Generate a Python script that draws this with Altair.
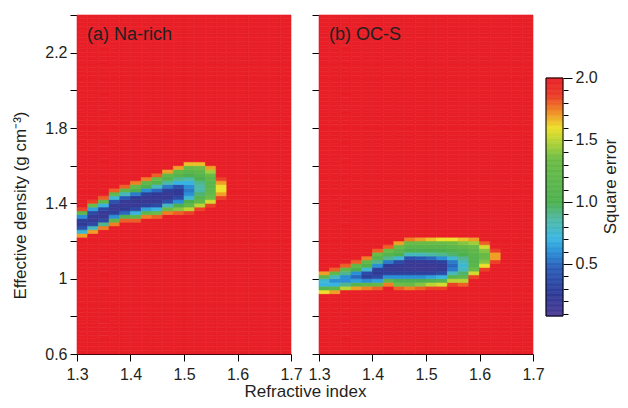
import altair as alt
import pandas as pd
import numpy as np

# ---------------- data ----------------
X_START, X_STEP, N_COLS = 1.30, 0.02, 20      # refractive index grid
Y_START, Y_STEP, N_ROWS = 0.60, 0.02, 90      # effective density grid
SATURATED = 2.0                               # cells outside the blob (red)

# Panel (a) Na-rich: for each column, density of the top non-red row and its values top->bottom
A_TOP = [1.36, 1.40, 1.42, 1.46, 1.48, 1.50, 1.52, 1.54, 1.56, 1.58, 1.60, 1.60, 1.58, 1.52]
A_VALS = [
    [1.85, 1.2, 0.6, 0.3, 0.25, 0.4, 0.75, 1.7],
    [1.85, 1.3, 0.65, 0.35, 0.2, 0.2, 0.35, 0.8, 1.7],
    [1.8, 1.25, 0.7, 0.35, 0.2, 0.2, 0.35, 0.9, 1.75],
    [1.8, 1.2, 0.75, 0.4, 0.2, 0.2, 0.3, 0.6, 1.2, 1.75],
    [1.8, 1.2, 0.8, 0.45, 0.2, 0.2, 0.25, 0.5, 1.1, 1.8],
    [1.75, 1.25, 1.0, 0.55, 0.25, 0.2, 0.2, 0.35, 0.7, 1.2, 1.8],
    [1.75, 1.2, 1.0, 0.6, 0.3, 0.2, 0.2, 0.3, 0.65, 1.2, 1.75],
    [1.8, 1.3, 1.1, 0.8, 0.5, 0.25, 0.2, 0.2, 0.35, 0.7, 1.3, 1.8],
    [1.7, 1.25, 1.1, 0.85, 0.55, 0.3, 0.2, 0.22, 0.4, 0.8, 1.3, 1.75],
    [1.7, 1.25, 1.1, 0.9, 0.7, 0.4, 0.25, 0.25, 0.35, 0.6, 1.0, 1.4, 1.8],
    [1.65, 1.3, 1.15, 1.0, 0.85, 0.7, 0.6, 0.55, 0.6, 0.75, 1.0, 1.25, 1.5, 1.85],
    [1.65, 1.35, 1.2, 1.1, 1.0, 0.9, 0.85, 0.85, 0.95, 1.1, 1.25, 1.5, 1.85],
    [1.7, 1.45, 1.3, 1.2, 1.15, 1.15, 1.2, 1.25, 1.35, 1.55, 1.85],
    [1.85, 1.7, 1.6, 1.6, 1.7, 1.85],
]

# Panel (b) OC-S
B_TOP = [1.02, 1.04, 1.06, 1.08, 1.10, 1.14, 1.16, 1.18, 1.20, 1.20, 1.20, 1.20, 1.20, 1.20, 1.20, 1.18, 1.14]
B_VALS = [
    [1.7, 1.2, 0.75, 0.7, 1.1, 1.6],
    [1.8, 1.2, 0.8, 0.6, 0.7, 1.2, 1.7],
    [1.8, 1.25, 0.9, 0.6, 0.6, 0.9, 1.5],
    [1.8, 1.25, 1.0, 0.6, 0.5, 0.65, 1.1, 1.7],
    [1.75, 1.25, 1.05, 0.75, 0.35, 0.3, 0.6, 1.2, 1.75],
    [1.8, 1.3, 1.1, 0.9, 0.6, 0.3, 0.25, 0.35, 0.65, 1.25, 1.8],
    [1.8, 1.3, 1.1, 0.9, 0.55, 0.25, 0.2, 0.3, 0.6, 1.2, 1.75],
    [1.7, 1.3, 1.15, 1.0, 0.75, 0.35, 0.2, 0.2, 0.3, 0.6, 1.0, 1.35, 1.8],
    [1.75, 1.3, 1.15, 1.0, 0.8, 0.4, 0.2, 0.18, 0.18, 0.3, 0.6, 1.0, 1.3, 1.75],
    [1.7, 1.3, 1.15, 1.0, 0.8, 0.45, 0.2, 0.17, 0.17, 0.3, 0.6, 1.0, 1.4, 1.8],
    [1.65, 1.3, 1.15, 1.0, 0.85, 0.5, 0.22, 0.17, 0.18, 0.3, 0.65, 1.05, 1.5, 1.85],
    [1.6, 1.3, 1.15, 1.0, 0.9, 0.6, 0.3, 0.2, 0.22, 0.35, 0.7, 1.1, 1.55, 1.85],
    [1.6, 1.35, 1.2, 1.05, 0.95, 0.75, 0.55, 0.5, 0.55, 0.8, 1.15, 1.5, 1.85],
    [1.65, 1.4, 1.25, 1.1, 1.0, 0.9, 0.8, 0.75, 0.8, 0.95, 1.2, 1.5, 1.8],
    [1.7, 1.45, 1.3, 1.2, 1.15, 1.1, 1.1, 1.15, 1.3, 1.55, 1.85],
    [1.8, 1.55, 1.4, 1.3, 1.3, 1.4, 1.6, 1.85],
    [1.85, 1.7, 1.7, 1.85],
]

PANEL_LABELS = ["(a) Na-rich", "(b) OC-S"]
X_TICKS = [1.3, 1.4, 1.5, 1.6, 1.7]
Y_TICKS = [0.6, 0.8, 1.0, 1.2, 1.4, 1.6, 1.8, 2.0, 2.2, 2.4]
CB_MIN, CB_MAX = 0.08, 2.0
CB_TICKS = [round(0.1 * i, 1) for i in range(1, 21)]

# Colour map (rainbow, as in the reference colour bar)
COLOR_STOPS = [0.08, 0.26, 0.47, 0.60, 0.71, 0.87, 1.0, 1.35, 1.49, 1.60, 1.73, 1.86, 2.0]
COLOR_RANGE = ["#4b3a94", "#2e3a96", "#2a5cb8", "#2a8fd6", "#3ab7e2", "#4fb8a0",
               "#4db04f", "#6cbd45", "#b5d334", "#eee02a", "#f08a24", "#eb3a25", "#e81f27"]


def build_grid(tops, vals):
    recs = []
    for k in range(N_COLS):
        override = {}
        if k < len(vals):
            for j, v in enumerate(vals[k]):
                override[round(tops[k] - j * Y_STEP, 2)] = v
        x0 = round(X_START + k * X_STEP, 2)
        for i in range(N_ROWS):
            y0 = round(Y_START + i * Y_STEP, 2)
            recs.append({"x": x0, "x2": round(x0 + X_STEP, 2), "y": y0,
                         "y2": round(y0 + Y_STEP, 2), "err": override.get(y0, SATURATED)})
    return pd.DataFrame(recs)


FONT = "Liberation Sans"
TXT = "#231f20"
PW, PH = 214, 339
TICK_FS = 16
TITLE_FS = 17

color_scale = alt.Scale(domain=COLOR_STOPS, range=COLOR_RANGE, clamp=True, interpolate="rgb")

Y_LABEL_TEST = "round(datum.value*10) % 4 == 2"


def panel(df, label, first):
    if first:
        xaxis = alt.Axis(values=X_TICKS, format=".1f", labelFlush=False, labelOverlap=False,
                         tickSize=7, labelPadding=5, grid=False, title=None)
        yaxis = alt.Axis(values=Y_TICKS, labelOverlap=False, labelFlush=False, tickSize=7,
                         labelPadding=3, grid=False,
                         labelExpr="(" + Y_LABEL_TEST + ") ? (round(datum.value*10) == 10 ? '1' : format(datum.value, '.1f')) : ''",
                         labelFontSize={"condition": {"test": Y_LABEL_TEST, "value": TICK_FS}, "value": 1},
                         title="Effective density (g cm\u207b\u00b3)", titleX=-57, titleY=190,
                         titleAngle=270, titleAlign="center", titleBaseline="middle")
    else:
        xaxis = alt.Axis(values=X_TICKS, format=".1f", labelFlush=False, labelOverlap=False,
                         tickSize=7, labelPadding=5, grid=False,
                         title="Refractive index", titleX=-14, titleY=37,
                         titleAlign="center", titleBaseline="middle")
        yaxis = alt.Axis(values=Y_TICKS, labels=False, tickSize=7, grid=False, title=None)

    heat = alt.Chart(df).mark_rect(strokeWidth=0.6).encode(
        x=alt.X("x:Q", scale=alt.Scale(domain=[1.3, 1.7], nice=False, zero=False), axis=xaxis),
        x2="x2:Q",
        y=alt.Y("y:Q", scale=alt.Scale(domain=[0.6, 2.4], nice=False, zero=False), axis=yaxis),
        y2="y2:Q",
        color=alt.Color("err:Q", scale=color_scale, legend=None),
        stroke=alt.Stroke("err:Q", scale=color_scale, legend=None),
    )
    txt = alt.Chart(pd.DataFrame({"label": [label]})).mark_text(
        align="left", baseline="alphabetic", fontSize=18, font=FONT, color=TXT
    ).encode(text="label:N", x=alt.value(10), y=alt.value(25))
    return alt.layer(heat, txt).properties(width=PW, height=PH)


pa = panel(build_grid(A_TOP, A_VALS), PANEL_LABELS[0], True)
pb = panel(build_grid(B_TOP, B_VALS), PANEL_LABELS[1], False)

# colour bar (drawn as a small chart so that it has tick marks like the reference)
cb_lo = np.round(np.arange(CB_MIN, CB_MAX - 1e-9, 0.01), 3)
cb_df = pd.DataFrame({"lo": cb_lo, "hi": np.round(np.minimum(cb_lo + 0.01, CB_MAX), 3)})
cb_df["mid"] = (cb_df["lo"] + cb_df["hi"]) / 2
cb_scale = alt.Scale(domain=[-0.226, 2.508], nice=False, zero=False)
CB_TEST = "round(datum.value*10) % 5 == 0"
cb_axis = alt.Axis(orient="right", values=CB_TICKS, domain=False, grid=False, labelOverlap=False,
                   labelExpr="(" + CB_TEST + ") ? format(datum.value, '.1f') : ''",
                   labelFontSize={"condition": {"test": CB_TEST, "value": TICK_FS}, "value": 1},
                   tickSize={"condition": {"test": CB_TEST, "value": 9}, "value": 5},
                   labelPadding=3, title="Square error", titleAngle=270, titleX=47, titleY=171,
                   titleAlign="center", titleBaseline="middle")
cb_fill = alt.Chart(cb_df).mark_rect(strokeWidth=0.6).encode(
    y=alt.Y("lo:Q", scale=cb_scale, axis=cb_axis),
    y2="hi:Q",
    color=alt.Color("mid:Q", scale=color_scale, legend=None),
    stroke=alt.Stroke("mid:Q", scale=color_scale, legend=None),
)
cb_frame = alt.Chart(pd.DataFrame({"lo": [CB_MIN], "hi": [CB_MAX]})).mark_rect(
    filled=False, stroke="black", strokeWidth=1
).encode(y=alt.Y("lo:Q", scale=cb_scale, axis=cb_axis), y2="hi:Q")
cb = alt.layer(cb_fill, cb_frame).properties(width=17, height=PH)

inner = alt.hconcat(pa, pb, spacing=28, bounds="flush")
chart = alt.hconcat(inner, cb, spacing=0, bounds="full").properties(
    padding={"left": 3, "top": 6, "right": 2, "bottom": 0}
).configure_view(stroke=None).configure_axis(
    domainColor="black", tickColor="black", domainWidth=1, tickWidth=1,
    labelFont=FONT, labelFontSize=TICK_FS, labelColor=TXT, labelOverlap=False,
    titleFont=FONT, titleFontSize=TITLE_FS, titleColor=TXT, titleFontWeight="normal"
).resolve_scale(color="shared")

chart.save("out.html", embed_options={"renderer": "svg", "actions": False})
